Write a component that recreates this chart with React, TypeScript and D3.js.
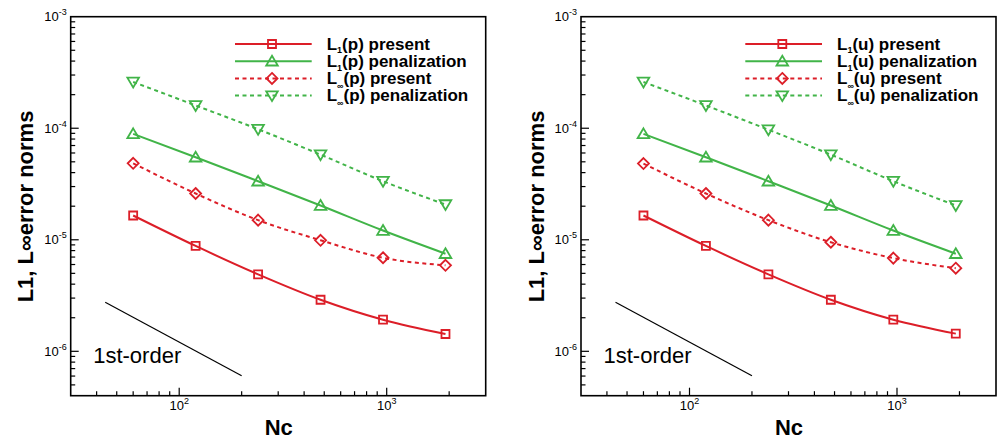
import React from "react";
import * as d3 from "d3";

// ---------- data ----------
const nc = [60, 120, 240, 480, 960, 1920];

const pL1Present = [1.65e-5, 8.8e-6, 4.9e-6, 2.9e-6, 1.92e-6, 1.43e-6];
const pL1Penal = [8.9e-5, 5.5e-5, 3.35e-5, 2.03e-5, 1.21e-5, 7.5e-6];
const pLinfPresent = [4.85e-5, 2.6e-5, 1.5e-5, 9.9e-6, 6.9e-6, 5.9e-6];
const pLinfPenal = [2.6e-4, 1.6e-4, 9.8e-5, 5.8e-5, 3.35e-5, 2.07e-5];

const uL1Present = [1.65e-5, 8.8e-6, 4.9e-6, 2.9e-6, 1.92e-6, 1.44e-6];
const uL1Penal = [8.9e-5, 5.5e-5, 3.35e-5, 2.03e-5, 1.21e-5, 7.5e-6];
const uLinfPresent = [4.82e-5, 2.6e-5, 1.5e-5, 9.5e-6, 6.85e-6, 5.56e-6];
const uLinfPenal = [2.6e-4, 1.6e-4, 9.7e-5, 5.8e-5, 3.35e-5, 2.03e-5];

const firstOrderX = [44, 200];
const firstOrderY = [2.75e-6, 6.05e-7];
const firstOrderLabelAt = [38.5, 7.9e-7];

const xDomain = [30, 3000];
const yDomain = [4e-7, 1e-3];
const xMajor = [100, 1000];
const xMajorExp = ["2", "3"];
const yMajor = [1e-6, 1e-5, 1e-4, 1e-3];
const yMajorExp = ["-6", "-5", "-4", "-3"];

const RED = "#dc1e28";
const GREEN = "#41b448";
const FONT = "'Liberation Sans', Arial, Helvetica, sans-serif";

type Series = {
  values: number[];
  color: string;
  dashed: boolean;
  marker: "square" | "triangle" | "diamond" | "invtriangle";
  sub: string;
  rest: string;
};

function markerPath(kind: string): string {
  switch (kind) {
    case "square":
      return "M-4,-4H4V4H-4Z";
    case "triangle":
      return "M0,-5.5L5.8,4.3H-5.8Z";
    case "invtriangle":
      return "M0,5.5L5.8,-4.3H-5.8Z";
    case "diamond":
      return "M0,-5.5L5.5,0L0,5.5L-5.5,0Z";
  }
  return "";
}

function Panel({ x0, v, series }: { x0: number; v: string; series: Series[] }) {
  const left = x0;
  const right = x0 + 415;
  const top = 16.7;
  const bottom = 395.7;
  const x = d3.scaleLog().domain(xDomain).range([left, right]);
  const y = d3.scaleLog().domain(yDomain).range([bottom, top]);

  const xMinor: number[] = [];
  for (const dec of [10, 100, 1000]) {
    for (let k = 2; k <= 9; k++) {
      const val = dec * k;
      if (val > xDomain[0] && val < xDomain[1]) xMinor.push(val);
    }
  }
  const yMinor: number[] = [];
  for (const dec of [1e-7, 1e-6, 1e-5, 1e-4]) {
    for (let k = 2; k <= 9; k++) {
      const val = dec * k;
      if (val > yDomain[0] * 1.0001 && val < yDomain[1]) yMinor.push(val);
    }
  }

  const line = d3
    .line<[number, number]>()
    .x((d) => x(d[0]))
    .y((d) => y(d[1]))
    .curve(d3.curveMonotoneX);

  const legendX1 = x0 + 164.3;
  const legendX2 = x0 + 241;
  const legendMX = x0 + 201.3;
  const legendTX = x0 + 256;
  const legendY0 = 44;
  const legendDY = 17.2;

  return (
    <g>
      <rect x={left} y={top} width={right - left} height={bottom - top} fill="none" stroke="#000" strokeWidth={1.6} />
      {yMajor.map((t, i) => (
        <g key={"ym" + i}>
          {t < yDomain[1] && (
            <line x1={left} x2={left + 8} y1={y(t)} y2={y(t)} stroke="#000" strokeWidth={1.2} />
          )}
          <text x={left - 4} y={y(t) + 4.5} textAnchor="end" fontFamily={FONT} fontSize={13} fill="#000">
            10
            <tspan dy={-6} fontSize={9}>
              {yMajorExp[i]}
            </tspan>
          </text>
        </g>
      ))}
      {yMinor.map((t, i) => (
        <line key={"yn" + i} x1={left} x2={left + 4.5} y1={y(t)} y2={y(t)} stroke="#000" strokeWidth={1.2} />
      ))}
      {xMajor.map((t, i) => (
        <g key={"xm" + i}>
          <line x1={x(t)} x2={x(t)} y1={bottom} y2={bottom - 8} stroke="#000" strokeWidth={1.2} />
          <text x={x(t)} y={410} textAnchor="middle" fontFamily={FONT} fontSize={13} fill="#000">
            10
            <tspan dy={-6} fontSize={9}>
              {xMajorExp[i]}
            </tspan>
          </text>
        </g>
      ))}
      {xMinor.map((t, i) => (
        <line key={"xn" + i} x1={x(t)} x2={x(t)} y1={bottom} y2={bottom - 4.5} stroke="#000" strokeWidth={1.2} />
      ))}

      <text
        transform={`translate(${x0 - 37.5},206.5) rotate(-90)`}
        textAnchor="middle"
        fontFamily={FONT}
        fontSize={22}
        fontWeight="bold"
        fill="#000"
      >
        L1, L∞error norms
      </text>
      <text x={x0 + 208} y={435} textAnchor="middle" fontFamily={FONT} fontSize={22} fontWeight="bold" fill="#000">
        Nc
      </text>

      <line
        x1={x(firstOrderX[0])}
        y1={y(firstOrderY[0])}
        x2={x(firstOrderX[1])}
        y2={y(firstOrderY[1])}
        stroke="#000"
        strokeWidth={1.2}
      />
      <text x={x(firstOrderLabelAt[0])} y={y(firstOrderLabelAt[1])} fontFamily={FONT} fontSize={22} fill="#000">
        1st-order
      </text>

      {series.map((s, si) => {
        const pts = nc.map((n, i) => [n, s.values[i]] as [number, number]);
        return (
          <g key={"s" + si}>
            <path
              d={line(pts) || ""}
              fill="none"
              stroke={s.color}
              strokeWidth={2}
              strokeDasharray={s.dashed ? "4,3.5" : undefined}
            />
            {pts.map((p, i) => (
              <path
                key={i}
                d={markerPath(s.marker)}
                transform={`translate(${x(p[0])},${y(p[1])})`}
                fill="none"
                stroke={s.color}
                strokeWidth={1.8}
              />
            ))}
          </g>
        );
      })}

      {series.map((s, si) => {
        const ly = legendY0 + si * legendDY;
        return (
          <g key={"l" + si}>
            <line
              x1={legendX1}
              x2={legendX2}
              y1={ly}
              y2={ly}
              stroke={s.color}
              strokeWidth={2}
              strokeDasharray={s.dashed ? "4,3.5" : undefined}
            />
            <path
              d={markerPath(s.marker)}
              transform={`translate(${legendMX},${ly})`}
              fill="none"
              stroke={s.color}
              strokeWidth={1.8}
            />
            <text x={legendTX} y={ly + 5.8} fontFamily={FONT} fontSize={17} fontWeight="bold" fill="#000">
              L
              <tspan dy={s.sub === "1" ? 3.5 : 5} fontSize={9}>
                {s.sub}
              </tspan>
              <tspan dy={s.sub === "1" ? -3.5 : -5} fontSize={17}>
                {s.rest}
              </tspan>
            </text>
          </g>
        );
      })}
    </g>
  );
}

function makeSeries(v: string, a: number[], b: number[], c: number[], d: number[]): Series[] {
  return [
    { values: a, color: RED, dashed: false, marker: "square", sub: "1", rest: `(${v}) present` },
    { values: b, color: GREEN, dashed: false, marker: "triangle", sub: "1", rest: `(${v}) penalization` },
    { values: c, color: RED, dashed: true, marker: "diamond", sub: "∞", rest: `(${v}) present` },
    { values: d, color: GREEN, dashed: true, marker: "invtriangle", sub: "∞", rest: `(${v}) penalization` },
  ];
}

export default function App() {
  const pSeries = makeSeries("p", pL1Present, pL1Penal, pLinfPresent, pLinfPenal);
  const uSeries = makeSeries("u", uL1Present, uL1Penal, uLinfPresent, uLinfPenal);
  return (
    <svg
      width={1000}
      height={441}
      viewBox="0 0 1000 441"
      style={{ position: "absolute", left: 0, top: 0, background: "#fff" }}
    >
      <rect x={0} y={0} width={1000} height={441} fill="#fff" />
      <Panel x0={70.7} v="p" series={pSeries} />
      <Panel x0={581} v="u" series={uSeries} />
    </svg>
  );
}
